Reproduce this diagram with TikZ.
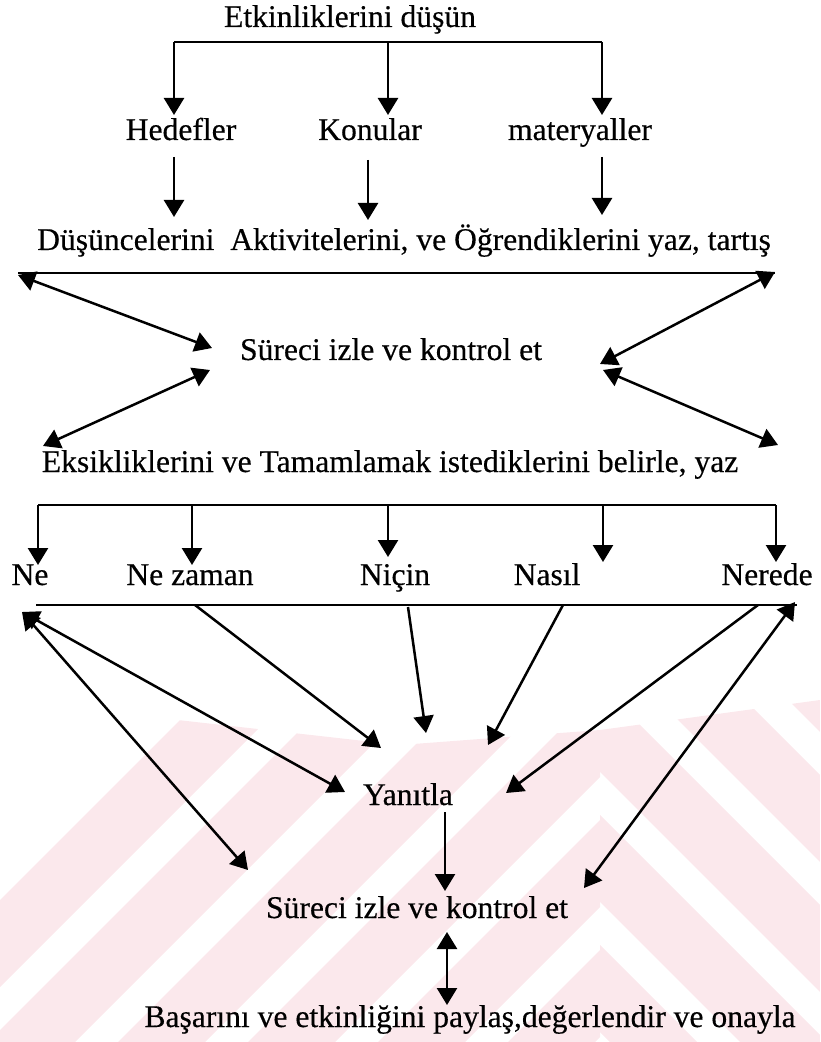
\documentclass[tikz,border=0pt]{standalone}
\usepackage{fontspec}
\setmainfont{Liberation Serif}[FakeBold=0.4]
\usetikzlibrary{arrows.meta}
\definecolor{wmpink}{RGB}{251,232,236}
\begin{document}
\begin{tikzpicture}[x=0.5pt,y=-0.5pt,
  lbl/.style={anchor=base,inner sep=0pt,font=\fontsize{15.8pt}{18pt}\selectfont},
  link/.style={line width=1.25pt},
  tip/.tip={Triangle[length=8.5pt,width=10pt]},
  arr/.style={link,-tip},
  darr/.style={link,tip-tip},
  wm/.style={fill=wmpink},
]
\useasboundingbox (0,0) rectangle (820,1042);

% ---- faint striped background band ----
\begin{scope}
  \clip (0,700) -- (400,745) -- (600,730) -- (600,1042) -- (0,1042) -- cycle;
  \foreach \k in {-1,...,8}
    \fill[wm] ({-12+130*\k},1042) -- ++(87,0) -- ++(450,-450) -- ++(-87,0) -- cycle;
\end{scope}
\begin{scope}
  \clip (600,730) -- (820,700) -- (820,1042) -- (600,1042) -- cycle;
  \foreach \k in {0,...,6}
    \fill[wm] ({480+130*\k},1042) -- ++(87,0) -- ++(-450,-450) -- ++(-87,0) -- cycle;
\end{scope}

% ---- text nodes ----
\node[lbl] (think)  at (350,27)  {Etkinliklerini düşün};
\node[lbl] (goals)  at (181,140) {Hedefler};
\node[lbl] (topics) at (370,140) {Konular};
\node[lbl] (mats)   at (580,140) {materyaller};
\node[lbl] (write)  at (404,250) {Düşüncelerini\ \ Aktivitelerini, ve Öğrendiklerini yaz, tartış};
\node[lbl] (mon1)   at (391,360) {Süreci izle ve kontrol et};
\node[lbl] (gaps)   at (390,472) {Eksikliklerini ve Tamamlamak istediklerini belirle, yaz};
\node[lbl] (what)   at (30,585)  {Ne};
\node[lbl] (when)   at (190,585) {Ne zaman};
\node[lbl] (why)    at (395,585) {Niçin};
\node[lbl] (how)    at (547,585) {Nasıl};
\node[lbl] (where)  at (767,585) {Nerede};
\node[lbl] (answer) at (408,805) {Yanıtla};
\node[lbl] (mon2)   at (417,918) {Süreci izle ve kontrol et};
\node[lbl] (share)  at (470,1027) {Başarını ve etkinliğini paylaş,değerlendir ve onayla};

% ---- junction and end points ----
\coordinate (barA1) at (174,42);  \coordinate (barA2) at (388,42);  \coordinate (barA3) at (602,42);
\coordinate (goalsIn)  at (174,115); \coordinate (topicsIn) at (388,115); \coordinate (matsIn) at (602,115);
\coordinate (goalsOut) at (174,157); \coordinate (topicsOut) at (368,160); \coordinate (matsOut) at (602,157);
\coordinate (writeInA) at (174,217); \coordinate (writeInB) at (368,220); \coordinate (writeInC) at (602,215);

\coordinate (ruleL) at (18,273);  \coordinate (ruleR) at (775,273);
\coordinate (ruleLt) at (18,275); \coordinate (ruleRt) at (775,272);
\coordinate (mon1UL) at (212,348); \coordinate (mon1LL) at (210,370);
\coordinate (mon1UR) at (600,364); \coordinate (mon1LR) at (603,370);
\coordinate (gapsL) at (43,446);   \coordinate (gapsR) at (778,445);

\coordinate (barB1) at (38,505);  \coordinate (barB2) at (192,505); \coordinate (barB3) at (388,505);
\coordinate (barB4) at (603,505); \coordinate (barB5) at (776,505);
\coordinate (whatIn)  at (38,565);  \coordinate (whenIn) at (192,565); \coordinate (whyIn) at (388,557);
\coordinate (howIn)   at (603,562); \coordinate (whereIn) at (776,562);

\coordinate (underL) at (36,605);  \coordinate (underR) at (797,605);
\coordinate (whatTip) at (22,612);
\coordinate (whenOut) at (195,605); \coordinate (whyOut) at (408,607);
\coordinate (howOut)  at (563,605); \coordinate (whereOut) at (758,605);
\coordinate (whereTip) at (795,602);
\coordinate (ansL)  at (345,792); \coordinate (ansA) at (381,748); \coordinate (ansB) at (426,733);
\coordinate (ansC)  at (488,745); \coordinate (ansR) at (506,793);
\coordinate (mon2L) at (248,870); \coordinate (mon2R) at (584,888);
\coordinate (ansOut) at (445,812); \coordinate (mon2In) at (445,891);
\coordinate (mon2Out) at (447,932); \coordinate (shareIn) at (447,1005);

% ---- connectors ----
\draw[link] (barA1) -- (barA3);
\draw[arr] (barA1) -- (goalsIn);
\draw[arr] (barA2) -- (topicsIn);
\draw[arr] (barA3) -- (matsIn);
\draw[arr] (goalsOut) -- (writeInA);
\draw[arr] (topicsOut) -- (writeInB);
\draw[arr] (matsOut) -- (writeInC);

\draw[link] (ruleL) -- (ruleR);
\draw[darr] (ruleLt) -- (mon1UL);
\draw[darr] (ruleRt) -- (mon1UR);
\draw[darr] (mon1LL) -- (gapsL);
\draw[darr] (mon1LR) -- (gapsR);

\draw[link] (barB1) -- (barB5);
\draw[arr] (barB1) -- (whatIn);
\draw[arr] (barB2) -- (whenIn);
\draw[arr] (barB3) -- (whyIn);
\draw[arr] (barB4) -- (howIn);
\draw[arr] (barB5) -- (whereIn);

\draw[link] (underL) -- (underR);
\draw[darr] (whatTip) -- (mon2L);
\draw[darr] (whatTip) -- (ansL);
\draw[arr] (whenOut) -- (ansA);
\draw[arr] (whyOut) -- (ansB);
\draw[arr] (howOut) -- (ansC);
\draw[arr] (whereOut) -- (ansR);
\draw[darr] (whereTip) -- (mon2R);

\draw[arr] (ansOut) -- (mon2In);
\draw[darr] (mon2Out) -- (shareIn);
\end{tikzpicture}
\end{document}
